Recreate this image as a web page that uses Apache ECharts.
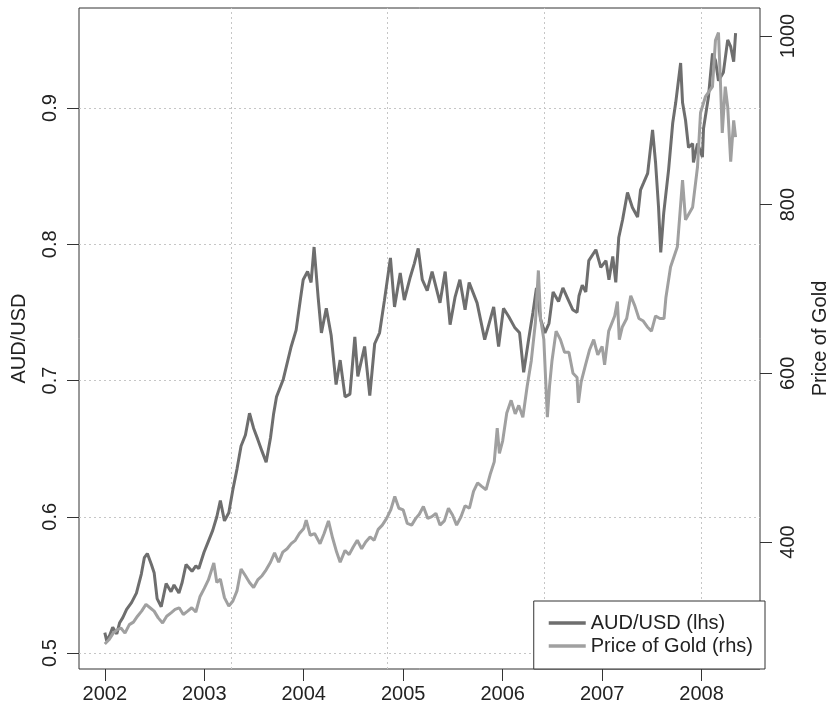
<!DOCTYPE html>
<html>
<head>
<meta charset="utf-8">
<script src="https://cdn.jsdelivr.net/npm/echarts@6/dist/echarts.min.js"></script>
<style>
html,body{margin:0;padding:0;background:#fff;}
#main{width:838px;height:707px;}
</style>
</head>
<body>
<div id="main"></div>
<script>
// ---------------- data ----------------
const yearTicks = [2002, 2003, 2004, 2005, 2006, 2007, 2008];
const audTicks = [0.5, 0.6, 0.7, 0.8, 0.9];
const goldTicks = [400, 600, 800, 1000];
const vGridYears = [2003.267, 2004.844, 2006.421, 2007.998];

const audDates = ["2002-01-01","2002-01-08","2002-01-19","2002-01-30","2002-02-14","2002-02-24","2002-03-08","2002-03-22","2002-04-09","2002-04-27","2002-05-15","2002-05-26","2002-06-06","2002-06-21","2002-07-01","2002-07-12","2002-07-27","2002-08-14","2002-09-01","2002-09-12","2002-09-30","2002-10-12","2002-10-26","2002-11-17","2002-12-01","2002-12-12","2002-12-31",
"2003-01-16","2003-02-01","2003-02-16","2003-03-01","2003-03-16","2003-04-01","2003-04-16","2003-05-01","2003-05-16","2003-06-01","2003-06-16","2003-07-01","2003-07-16","2003-08-01","2003-08-16","2003-09-01","2003-09-12","2003-09-23","2003-10-18","2003-11-16","2003-12-04","2003-12-20","2003-12-30",
"2004-01-15","2004-01-28","2004-02-08","2004-02-23","2004-03-06","2004-03-24","2004-04-11","2004-04-29","2004-05-14","2004-06-01","2004-06-19","2004-07-07","2004-07-18","2004-08-12","2004-08-31","2004-09-18","2004-10-06","2004-10-24","2004-11-15","2004-11-30","2004-12-21",
"2005-01-05","2005-01-27","2005-02-11","2005-02-25","2005-03-12","2005-03-30","2005-04-17","2005-05-16","2005-06-04","2005-06-22","2005-07-10","2005-07-28","2005-08-16","2005-08-31","2005-09-29","2005-10-27","2005-11-29","2005-12-17",
"2006-01-04","2006-01-23","2006-02-14","2006-03-04","2006-03-19","2006-04-06","2006-04-22","2006-05-05","2006-05-20","2006-06-05","2006-06-20","2006-07-05","2006-07-25","2006-08-10","2006-08-28","2006-09-15","2006-10-01","2006-10-08","2006-10-20","2006-11-02","2006-11-13","2006-12-09","2006-12-27",
"2007-01-15","2007-01-26","2007-02-09","2007-02-20","2007-03-03","2007-03-17","2007-04-04","2007-04-22","2007-05-11","2007-05-22","2007-06-02","2007-06-17","2007-07-05","2007-07-16","2007-07-27","2007-08-04","2007-08-15","2007-09-02","2007-09-17","2007-09-28","2007-10-16","2007-10-23","2007-11-03","2007-11-14","2007-11-29","2007-12-02","2007-12-17",
"2008-01-04","2008-01-08","2008-01-26","2008-02-10","2008-02-21","2008-03-03","2008-03-21","2008-04-06","2008-04-17","2008-04-28","2008-05-05"];
const audValues = [0.515,0.509,0.513,0.519,0.514,0.522,0.526,0.532,0.537,0.544,0.558,0.570,0.573,0.565,0.559,0.540,0.534,0.551,0.545,0.550,0.544,0.552,0.565,0.560,0.564,0.562,0.574,
0.582,0.590,0.600,0.612,0.597,0.603,0.620,0.635,0.652,0.660,0.676,0.665,0.657,0.648,0.640,0.658,0.675,0.688,0.701,0.725,0.737,0.760,0.774,
0.780,0.772,0.798,0.761,0.735,0.753,0.733,0.697,0.715,0.688,0.690,0.732,0.703,0.725,0.689,0.727,0.735,0.759,0.790,0.754,0.779,
0.759,0.776,0.786,0.797,0.774,0.766,0.780,0.757,0.780,0.741,0.761,0.774,0.752,0.772,0.757,0.730,0.754,0.725,
0.753,0.747,0.739,0.735,0.706,0.730,0.750,0.768,0.745,0.735,0.742,0.765,0.758,0.768,0.760,0.752,0.750,0.762,0.770,0.765,0.788,0.796,0.783,
0.788,0.774,0.791,0.772,0.805,0.818,0.838,0.827,0.820,0.840,0.845,0.852,0.884,0.860,0.827,0.794,0.823,0.855,0.889,0.904,0.933,0.904,0.891,0.871,0.874,0.860,0.874,
0.864,0.885,0.908,0.940,0.935,0.920,0.926,0.950,0.945,0.934,0.955];

const goldDates = ["2002-01-01","2002-01-16","2002-02-01","2002-02-16","2002-03-01","2002-03-16","2002-04-01","2002-04-16","2002-05-01","2002-05-16","2002-06-01","2002-06-16","2002-07-01","2002-07-16","2002-08-01","2002-08-16","2002-09-01","2002-09-16","2002-10-01","2002-10-16","2002-11-01","2002-11-16","2002-12-01","2002-12-16",
"2003-01-01","2003-01-16","2003-02-05","2003-02-16","2003-03-01","2003-03-16","2003-04-01","2003-04-16","2003-05-01","2003-05-16","2003-06-01","2003-06-16","2003-07-01","2003-07-16","2003-08-01","2003-08-16","2003-09-01","2003-09-16","2003-10-01","2003-10-16","2003-11-01","2003-11-16","2003-12-01","2003-12-16",
"2004-01-01","2004-01-10","2004-01-25","2004-02-10","2004-03-01","2004-03-16","2004-04-01","2004-04-16","2004-05-01","2004-05-14","2004-06-01","2004-06-16","2004-07-01","2004-07-16","2004-08-01","2004-08-16","2004-09-01","2004-09-16","2004-10-01","2004-10-16","2004-11-01","2004-11-16","2004-12-01","2004-12-16",
"2005-01-01","2005-01-16","2005-02-01","2005-02-16","2005-03-01","2005-03-16","2005-04-01","2005-04-16","2005-05-01","2005-05-16","2005-06-01","2005-06-16","2005-07-01","2005-07-16","2005-08-01","2005-08-16","2005-09-01","2005-09-16","2005-10-01","2005-10-16","2005-11-01","2005-11-16","2005-12-01","2005-12-12","2005-12-20",
"2006-01-01","2006-01-16","2006-02-01","2006-02-16","2006-03-01","2006-03-16","2006-04-01","2006-04-16","2006-05-01","2006-05-12","2006-05-20","2006-06-01","2006-06-14","2006-06-22","2006-07-01","2006-07-16","2006-08-01","2006-08-16","2006-09-01","2006-09-16","2006-10-01","2006-10-06","2006-10-16","2006-11-01","2006-11-16","2006-12-01","2006-12-16",
"2007-01-01","2007-01-10","2007-01-25","2007-02-16","2007-02-26","2007-03-05","2007-03-16","2007-04-01","2007-04-16","2007-05-01","2007-05-16","2007-06-01","2007-06-16","2007-07-01","2007-07-16","2007-08-01","2007-08-16","2007-08-23","2007-09-09","2007-10-04","2007-10-23","2007-11-03","2007-11-29","2007-12-17","2007-12-28",
"2008-01-15","2008-02-10","2008-02-21","2008-03-03","2008-03-10","2008-03-17","2008-03-28","2008-04-06","2008-04-17","2008-04-28","2008-05-05"];
const goldValues = [279,284,292,296,298,292,302,305,312,318,326,322,318,310,304,312,316,320,322,314,318,322,317,335,
345,355,375,352,356,334,324,330,342,368,360,352,346,355,360,367,376,387,376,388,392,398,402,410,
416,426,408,410,398,410,425,405,388,376,390,385,394,402,392,400,406,402,415,420,428,438,454,440,
438,422,420,428,433,442,428,430,434,420,425,440,432,420,430,443,440,460,470,466,462,480,495,535,505,
520,553,568,552,562,548,585,615,660,722,665,640,548,585,615,650,640,625,625,600,595,565,590,610,628,640,622,
632,610,650,668,685,640,655,665,692,680,665,662,655,650,668,665,665,690,726,750,829,782,797,845,909,
928,940,995,1004,948,885,940,916,851,900,880];

// ---------------- helpers ----------------
function toYear(s) {
  const p = s.split('-').map(Number);
  const start = Date.UTC(p[0], 0, 1), end = Date.UTC(p[0] + 1, 0, 1);
  return p[0] + (Date.UTC(p[0], p[1] - 1, p[2]) - start) / (end - start);
}
const audData = audDates.map((d, i) => [toYear(d), audValues[i]]);
const goldData = goldDates.map((d, i) => [toYear(d), goldValues[i]]);

const FONT = '"Liberation Sans", Arial, Helvetica, sans-serif';
const TXT = '#222';
const AXC = '#333';

const chart = echarts.init(document.getElementById('main'), null, { renderer: 'canvas' });
chart.setOption({
  animation: false,
  backgroundColor: '#fff',
  textStyle: { fontFamily: FONT },
  grid: { left: 79, right: 73, top: 8, bottom: 38, show: true, borderColor: AXC, borderWidth: 1, backgroundColor: 'transparent' },
  xAxis: {
    type: 'value', min: 2001.7405, max: 2008.587,
    axisLine: { show: false }, splitLine: { show: false },
    axisTick: { show: true, customValues: yearTicks, length: 12, lineStyle: { color: AXC, width: 1 } },
    axisLabel: { customValues: yearTicks, margin: 15, fontSize: 20, color: TXT, fontFamily: FONT,
      formatter: v => String(Math.round(v)) }
  },
  yAxis: [
    {
      type: 'value', position: 'left', min: 0.4883, max: 0.9734,
      axisLine: { show: false }, splitLine: { show: false },
      axisTick: { show: true, customValues: audTicks, length: 12, lineStyle: { color: AXC, width: 1 } },
      axisLabel: { customValues: audTicks, rotate: 90, margin: 19, fontSize: 20, color: TXT, fontFamily: FONT,
        formatter: v => v.toFixed(1) },
      name: 'AUD/USD', nameLocation: 'middle', nameGap: 50, nameRotate: 90,
      nameTextStyle: { fontSize: 20, color: TXT, fontFamily: FONT }
    },
    {
      type: 'value', position: 'right', min: 249.4, max: 1033.2,
      axisLine: { show: false }, splitLine: { show: false },
      axisTick: { show: true, customValues: goldTicks, length: 12, lineStyle: { color: AXC, width: 1 } },
      axisLabel: { customValues: goldTicks, rotate: 90, margin: 18, fontSize: 20, color: TXT, fontFamily: FONT,
        formatter: v => String(Math.round(v)) },
      name: 'Price of Gold', nameLocation: 'middle', nameGap: 50, nameRotate: 90,
      nameTextStyle: { fontSize: 20, color: TXT, fontFamily: FONT }
    }
  ],
  legend: {
    data: ['AUD/USD (lhs)', 'Price of Gold (rhs)'],
    orient: 'vertical', right: 73, bottom: 38,
    icon: 'rect', itemWidth: 37, itemHeight: 3.5, itemGap: 3,
    padding: [12, 12, 13, 15],
    backgroundColor: '#fff', borderColor: AXC, borderWidth: 1, borderRadius: 0,
    textStyle: { fontSize: 20, color: TXT, fontFamily: FONT },
    selectedMode: false
  },
  series: [
    {
      name: 'AUD/USD (lhs)', type: 'line', xAxisIndex: 0, yAxisIndex: 0,
      data: audData, showSymbol: false, symbol: 'none',
      lineStyle: { color: '#6e6e6e', width: 3 }, itemStyle: { color: '#6e6e6e' },
      emphasis: { disabled: true }, silent: true,
      markLine: {
        z: 1, silent: true, symbol: ['none', 'none'], label: { show: false },
        lineStyle: { color: '#c6c6c6', type: [2, 3], width: 1 },
        emphasis: { disabled: true },
        data: audTicks.map(v => ({ yAxis: v })).concat(vGridYears.map(v => ({ xAxis: v })))
      }
    },
    {
      name: 'Price of Gold (rhs)', type: 'line', xAxisIndex: 0, yAxisIndex: 1,
      data: goldData, showSymbol: false, symbol: 'none',
      lineStyle: { color: '#a0a0a0', width: 3 }, itemStyle: { color: '#a0a0a0' },
      emphasis: { disabled: true }, silent: true
    }
  ]
});
</script>
</body>
</html>
